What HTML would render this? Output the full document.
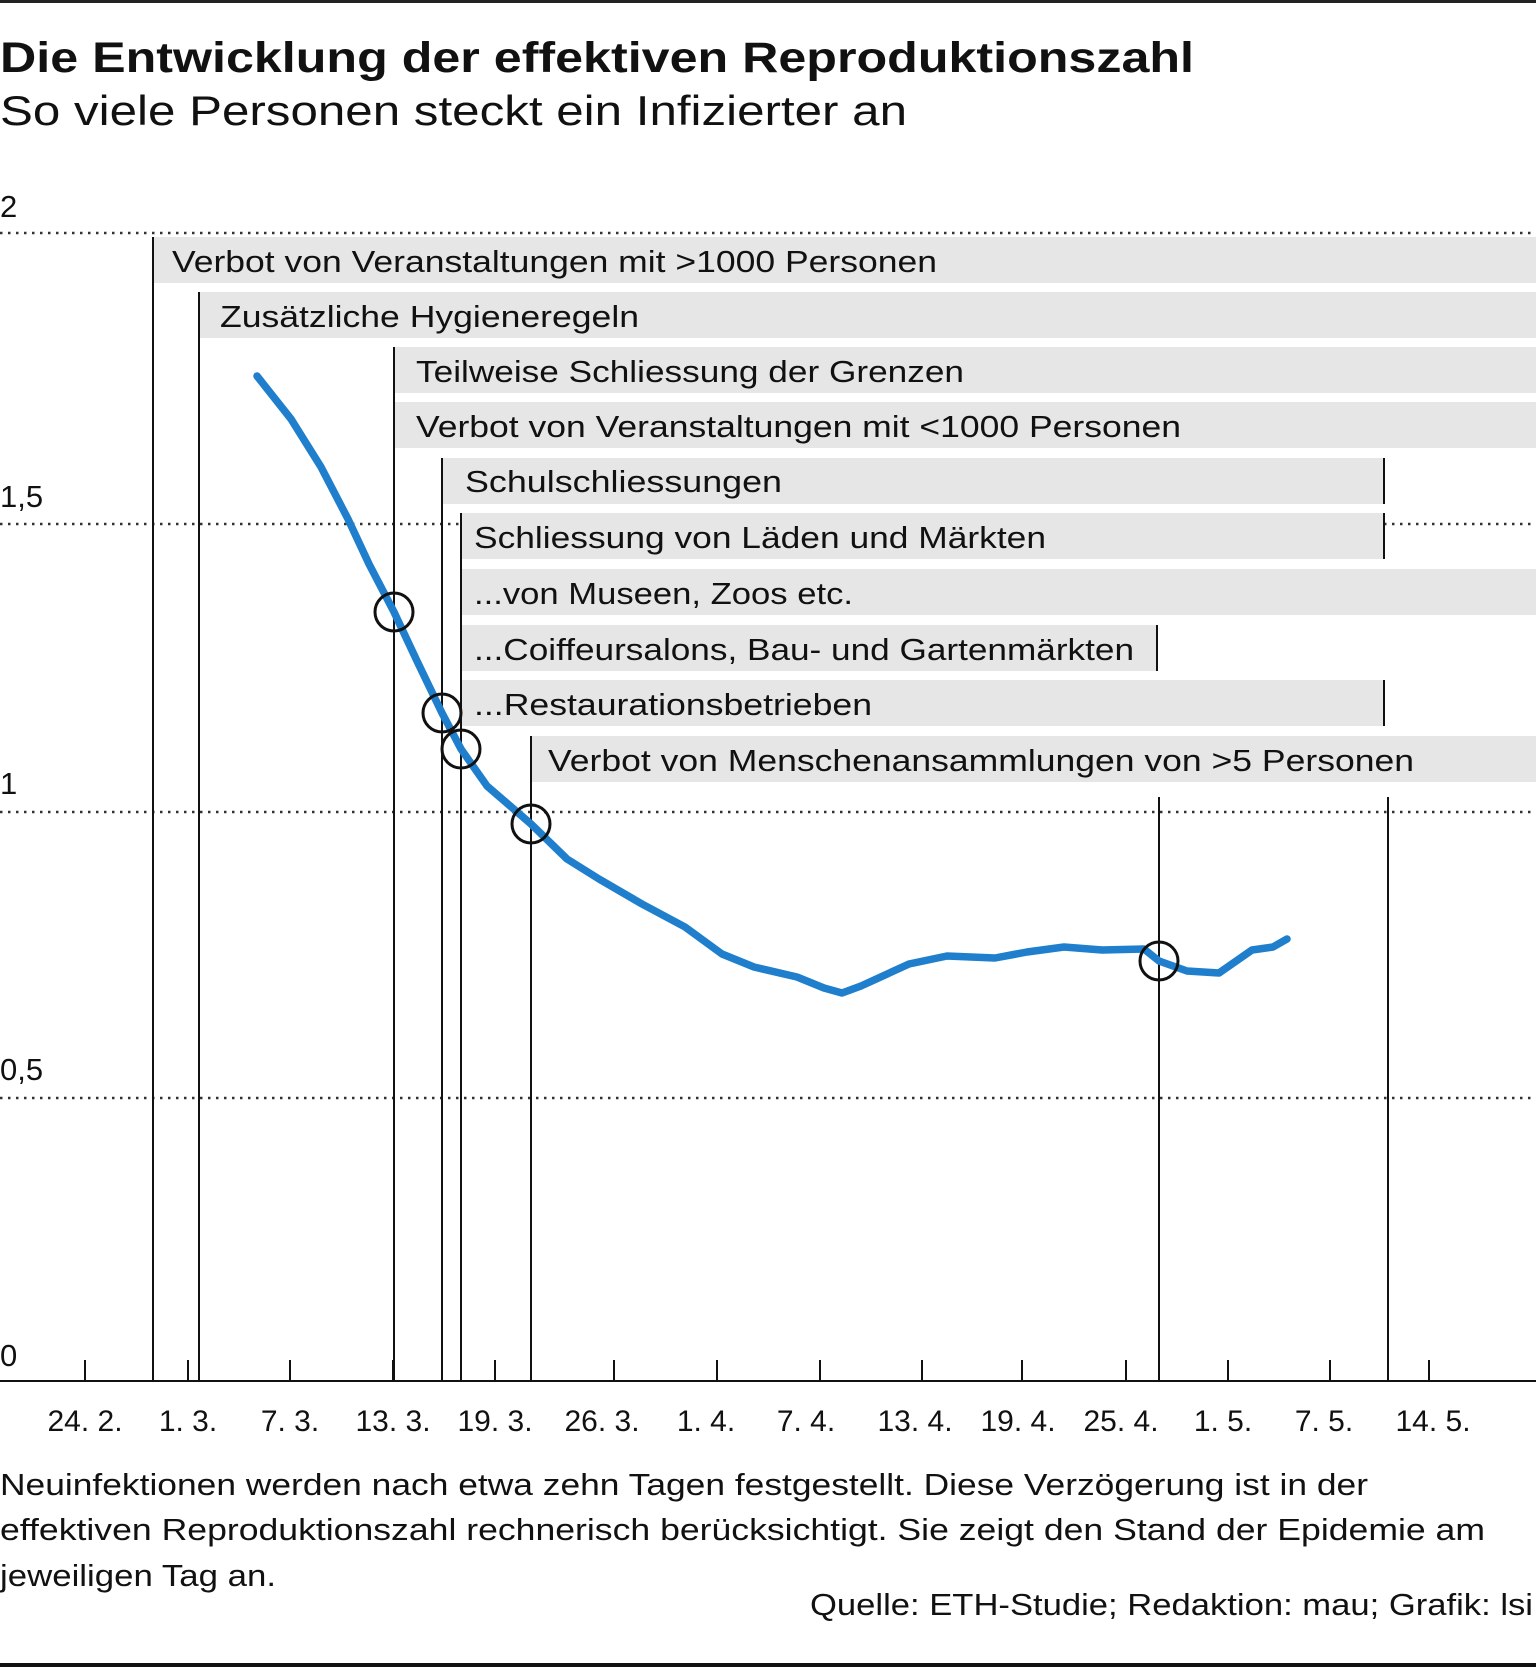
<!DOCTYPE html>
<html><head><meta charset="utf-8"><style>
html,body{margin:0;padding:0;background:#fff}
svg{display:block}
text{font-family:"Liberation Sans",sans-serif;fill:#111}
</style></head><body>
<svg width="1536" height="1677" viewBox="0 0 1536 1677" xmlns="http://www.w3.org/2000/svg">
<rect x="0" y="0" width="1536" height="3" fill="#222"/>
<text x="0" y="72" font-size="43" font-weight="bold" textLength="1194" lengthAdjust="spacingAndGlyphs">Die Entwicklung der effektiven Reproduktionszahl</text>
<text x="0" y="125" font-size="42" textLength="907" lengthAdjust="spacingAndGlyphs">So viele Personen steckt ein Infizierter an</text>

<g font-size="31">
<text x="0" y="217">2</text>
<text x="0" y="507">1,5</text>
<text x="0" y="794">1</text>
<text x="0" y="1080">0,5</text>
<text x="0" y="1366">0</text>
</g>
<g stroke="#333" stroke-width="2.5" stroke-dasharray="2.5 5.5">
<line x1="0" y1="233" x2="1536" y2="233"/>
<line x1="0" y1="524" x2="1536" y2="524"/>
<line x1="0" y1="812" x2="1536" y2="812"/>
<line x1="0" y1="1098" x2="1536" y2="1098"/>
</g>

<g fill="#e6e6e6">
<rect x="153" y="237" width="1383" height="46"/>
<rect x="199" y="292" width="1337" height="46"/>
<rect x="394" y="347" width="1142" height="46"/>
<rect x="394" y="402" width="1142" height="46"/>
<rect x="442" y="458" width="941" height="46"/>
<rect x="461" y="513" width="922" height="46"/>
<rect x="461" y="569" width="1075" height="46"/>
<rect x="461" y="625" width="695" height="46"/>
<rect x="461" y="680" width="922" height="46"/>
<rect x="531" y="736" width="1005" height="46"/>
</g>
<g stroke="#111" stroke-width="2">
<line x1="1384" y1="458" x2="1384" y2="504"/>
<line x1="1384" y1="513" x2="1384" y2="559"/>
<line x1="1384" y1="680" x2="1384" y2="726"/>
<line x1="1157" y1="625" x2="1157" y2="671"/>
<line x1="153" y1="237" x2="153" y2="1381"/>
<line x1="199" y1="292" x2="199" y2="1381"/>
<line x1="394" y1="347" x2="394" y2="1381"/>
<line x1="442" y1="458" x2="442" y2="1381"/>
<line x1="461" y1="513" x2="461" y2="1381"/>
<line x1="531" y1="736" x2="531" y2="1381"/>
<line x1="1159" y1="797" x2="1159" y2="1381"/>
<line x1="1388" y1="797" x2="1388" y2="1381"/>
</g>
<g font-size="31">
<text x="172" y="272" textLength="765" lengthAdjust="spacingAndGlyphs">Verbot von Veranstaltungen mit &gt;1000 Personen</text>
<text x="220" y="327" textLength="419" lengthAdjust="spacingAndGlyphs">Zusätzliche Hygieneregeln</text>
<text x="416" y="382" textLength="548" lengthAdjust="spacingAndGlyphs">Teilweise Schliessung der Grenzen</text>
<text x="416" y="437" textLength="765" lengthAdjust="spacingAndGlyphs">Verbot von Veranstaltungen mit &lt;1000 Personen</text>
<text x="465" y="492" textLength="317" lengthAdjust="spacingAndGlyphs">Schulschliessungen</text>
<text x="474" y="548" textLength="572" lengthAdjust="spacingAndGlyphs">Schliessung von Läden und Märkten</text>
<text x="474" y="604" textLength="379" lengthAdjust="spacingAndGlyphs">...von Museen, Zoos etc.</text>
<text x="474" y="660" textLength="660" lengthAdjust="spacingAndGlyphs">...Coiffeursalons, Bau- und Gartenmärkten</text>
<text x="474" y="715" textLength="398" lengthAdjust="spacingAndGlyphs">...Restaurationsbetrieben</text>
<text x="548" y="771" textLength="866" lengthAdjust="spacingAndGlyphs">Verbot von Menschenansammlungen von &gt;5 Personen</text>
</g>

<polyline fill="none" stroke="#1f7fcc" stroke-width="7.5" stroke-linejoin="round" stroke-linecap="round"
points="257,376 291,419 321,467 348,519 369,564 394,612 417,661 442,713 461,749 487,786 531,824 567,859 599,879 642,904 685,927 722,954 754,967 797,977 824,988 842,993 861,986 909,964 947,956 995,958 1027,952 1064,947 1102,950 1144,949 1159,961 1187,971 1219,973 1252,950 1273,947 1287,939"/>
<g fill="none" stroke="#111" stroke-width="3">
<circle cx="394" cy="612" r="19"/>
<circle cx="442" cy="713" r="19"/>
<circle cx="461" cy="749" r="19"/>
<circle cx="531" cy="824" r="19"/>
<circle cx="1159" cy="961" r="19"/>
</g>

<line x1="0" y1="1381" x2="1536" y2="1381" stroke="#111" stroke-width="2"/>
<g stroke="#111" stroke-width="2">
<line x1="85" y1="1360" x2="85" y2="1381"/><line x1="188" y1="1360" x2="188" y2="1381"/>
<line x1="290" y1="1360" x2="290" y2="1381"/><line x1="393" y1="1360" x2="393" y2="1381"/>
<line x1="495" y1="1360" x2="495" y2="1381"/><line x1="614" y1="1360" x2="614" y2="1381"/>
<line x1="717" y1="1360" x2="717" y2="1381"/><line x1="820" y1="1360" x2="820" y2="1381"/>
<line x1="922" y1="1360" x2="922" y2="1381"/><line x1="1022" y1="1360" x2="1022" y2="1381"/>
<line x1="1126" y1="1360" x2="1126" y2="1381"/><line x1="1228" y1="1360" x2="1228" y2="1381"/>
<line x1="1330" y1="1360" x2="1330" y2="1381"/><line x1="1429" y1="1360" x2="1429" y2="1381"/>
</g>
<g font-size="30" text-anchor="middle">
<text x="85" y="1431">24. 2.</text><text x="188" y="1431">1. 3.</text>
<text x="290" y="1431">7. 3.</text><text x="393" y="1431">13. 3.</text>
<text x="495" y="1431">19. 3.</text><text x="602" y="1431">26. 3.</text>
<text x="706" y="1431">1. 4.</text><text x="806" y="1431">7. 4.</text>
<text x="915" y="1431">13. 4.</text><text x="1018" y="1431">19. 4.</text>
<text x="1121" y="1431">25. 4.</text><text x="1223" y="1431">1. 5.</text>
<text x="1324" y="1431">7. 5.</text><text x="1433" y="1431">14. 5.</text>
</g>

<g font-size="31">
<text x="0" y="1495" textLength="1368" lengthAdjust="spacingAndGlyphs">Neuinfektionen werden nach etwa zehn Tagen festgestellt. Diese Verzögerung ist in der</text>
<text x="0" y="1540" textLength="1485" lengthAdjust="spacingAndGlyphs">effektiven Reproduktionszahl rechnerisch berücksichtigt. Sie zeigt den Stand der Epidemie am</text>
<text x="0" y="1586" textLength="276" lengthAdjust="spacingAndGlyphs">jeweiligen Tag an.</text>
<text x="810" y="1615" textLength="723" lengthAdjust="spacingAndGlyphs">Quelle: ETH-Studie; Redaktion: mau; Grafik: lsi</text>
</g>
<rect x="0" y="1663" width="1536" height="4" fill="#111"/>
</svg>
</body></html>
